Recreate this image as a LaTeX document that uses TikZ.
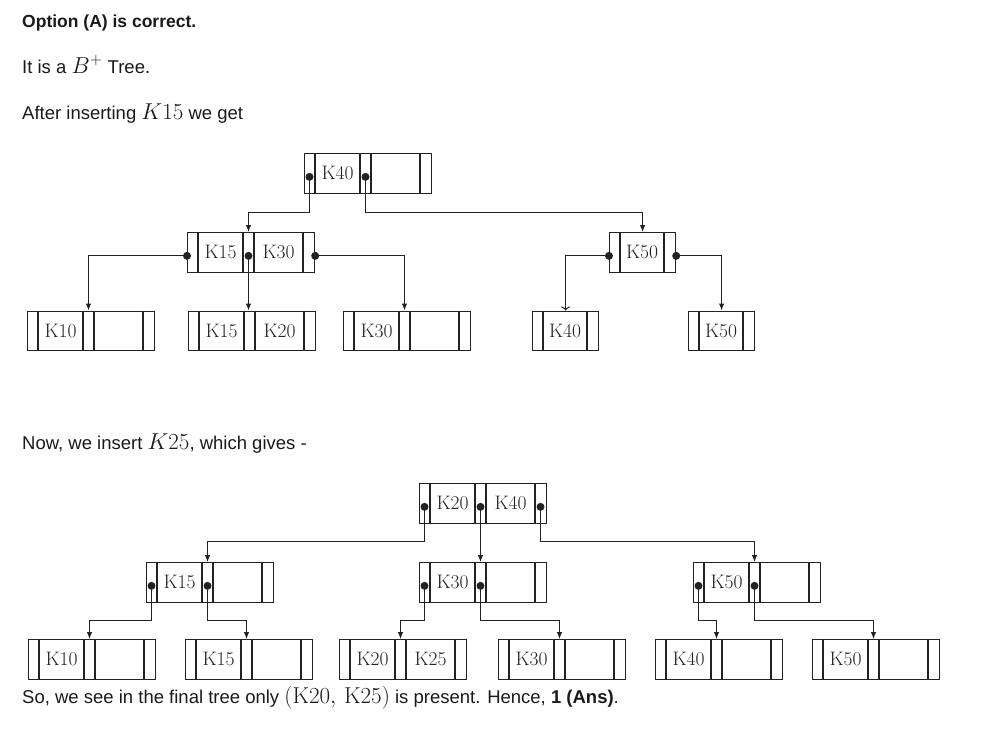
\documentclass[tikz,border=0pt]{standalone}
\usepackage{fix-cm}
\usepackage{fontspec}
\newfontfamily\bodyfont{Liberation Sans}
\usepackage{tikz}
\usetikzlibrary{arrows.meta,calc}
\definecolor{BPInk}{HTML}{222222}
\definecolor{BPText}{HTML}{1A1A1A}

% B+ tree node with two keys: name, north west corner, key one, key two
\newcommand{\bplusnode}[4]{%
  \node[bbox,minimum width=127pt] (#1) at (#2) {};
  \foreach \dx in {11,56,67,116}
    \draw[bcell] ([xshift=\dx pt]#1.north west) -- ([xshift=\dx pt]#1.south west);
  \node[bkey] (#1-k1) at ([xshift=33.5pt]#1.west) {#3};
  \node[bkey] (#1-k2) at ([xshift=91.5pt]#1.west) {#4};
  \coordinate (#1-p0) at ([xshift=5.5pt,yshift=-3.5pt]#1.west);
  \coordinate (#1-p1) at ([xshift=61.5pt,yshift=-3.5pt]#1.west);
  \coordinate (#1-p2) at ([xshift=121.5pt,yshift=-3.5pt]#1.west);
  \coordinate (#1-w) at ([yshift=-3.5pt]#1.west);
  \coordinate (#1-e) at ([yshift=-3.5pt]#1.east);
}
% B+ tree node with one key
\newcommand{\bplusone}[3]{%
  \node[bbox,minimum width=66pt] (#1) at (#2) {};
  \foreach \dx in {11,55}
    \draw[bcell] ([xshift=\dx pt]#1.north west) -- ([xshift=\dx pt]#1.south west);
  \node[bkey] (#1-k1) at ([xshift=33pt]#1.west) {#3};
  \coordinate (#1-w) at ([yshift=-3.5pt]#1.west);
  \coordinate (#1-e) at ([yshift=-3.5pt]#1.east);
}
\newcommand{\mathbig}[1]{{\fontsize{23}{27}\selectfont$#1$}}

\begin{document}
\begin{tikzpicture}[x=1pt,y=-1pt,
  bbox/.style={draw=BPInk,line width=1.2pt,anchor=north west,inner sep=0pt,minimum height=39.5pt},
  bcell/.style={draw=BPInk,line width=1.2pt},
  bkey/.style={inner sep=0pt,font=\fontsize{19.5}{23}\selectfont,text=BPInk},
  link/.style={draw=BPInk,line width=1pt,-{Latex[length=7pt,width=5.5pt]}},
  openlink/.style={draw=BPInk,line width=1pt,-{To[length=4pt,width=9pt]}},
  dot/.style={fill=BPInk},
  txt/.style={anchor=base west,inner sep=0pt,text=BPText,font=\bodyfont\fontsize{18.5}{22}\selectfont}
]
\path[use as bounding box,fill=white] (0,0) rectangle (985,742);

% text lines
\node[txt] (opt) at (22,27) {\bfseries\fontsize{17.5}{21}\selectfont Option (A) is correct.};
\node[txt] (kind) at (22,73) {It is a \mathbig{B^{+}} Tree.};
\node[txt] (after) at (22,119) {After inserting \mathbig{K15} we get};
\node[txt] (now) at (22,449) {Now, we insert \mathbig{K25}, which gives -};
\node[txt] (concl) at (22,703) {So, we see in the final tree only \mathbig{(\mathrm{K20},\,\mathrm{K25})} is present. Hence, \textbf{1 (Ans)}.};

% first tree, after K15
\bplusnode{r1}{304,153}{K40}{}
\bplusnode{n2}{187,232}{K15}{K30}
\bplusone{n3}{609,232}{K50}
\bplusnode{l1}{27,310.5}{K10}{}
\bplusnode{l2}{188,310.5}{K15}{K20}
\bplusnode{l3}{343,310.5}{K30}{}
\bplusone{l4}{532,310.5}{K40}
\bplusone{l5}{688,310.5}{K50}

\coordinate (bus1) at (0,212);
\draw[link] (r1-p0) |- (bus1 -| n2-p1) -- (n2-p1 |- n2.north);
\draw[link] (r1-p1) |- (bus1 -| n3) -- (n3.north);
\draw[link] (n2-w) -| (l1-p1 |- l1.north);
\draw[link] (n2-p1) -- (n2-p1 |- l2.north);
\draw[link] (n2-e) -| (l3-p1 |- l3.north);
\draw[openlink] (n3-w) -| (l4.north);
\draw[link] (n3-e) -| (l5.north);
\foreach \p in {r1-p0,r1-p1,n2-w,n2-p1,n2-e,n3-w,n3-e}
  \fill[dot] (\p) circle (4pt);

% second tree, after K25
\bplusnode{s1}{419,483}{K20}{K40}
\bplusnode{s2}{146,562}{K15}{}
\bplusnode{s3}{419,562}{K30}{}
\bplusnode{s4}{693,562}{K50}{}
\bplusnode{b1}{28,639}{K10}{}
\bplusnode{b2}{185,639}{K15}{}
\bplusnode{b3}{339,639}{K20}{K25}
\bplusnode{b4}{498,639}{K30}{}
\bplusnode{b5}{655,639}{K40}{}
\bplusnode{b6}{812,639}{K50}{}

\coordinate (bus2) at (0,541);
\draw[link] (s1-p0) |- (bus2 -| s2-p1) -- (s2-p1 |- s2.north);
\draw[link] (s1-p1) -- (s1-p1 |- s3.north);
\draw[link] (s1-p2) |- (bus2 -| s4-p1) -- (s4-p1 |- s4.north);
\coordinate (bus3) at (0,620);
\draw[link] (s2-p0) |- (bus3 -| b1-p1) -- (b1-p1 |- b1.north);
\draw[link] (s2-p1) |- (bus3 -| b2-p1) -- (b2-p1 |- b2.north);
\draw[link] (s3-p0) |- (bus3 -| b3-p1) -- (b3-p1 |- b3.north);
\draw[link] (s3-p1) |- (bus3 -| b4-p1) -- (b4-p1 |- b4.north);
\draw[link] (s4-p0) |- (bus3 -| b5-p1) -- (b5-p1 |- b5.north);
\draw[link] (s4-p1) |- (bus3 -| b6-p1) -- (b6-p1 |- b6.north);
\foreach \p in {s1-p0,s1-p1,s1-p2,s2-p0,s2-p1,s3-p0,s3-p1,s4-p0,s4-p1}
  \fill[dot] (\p) circle (4pt);
\end{tikzpicture}
\end{document}
